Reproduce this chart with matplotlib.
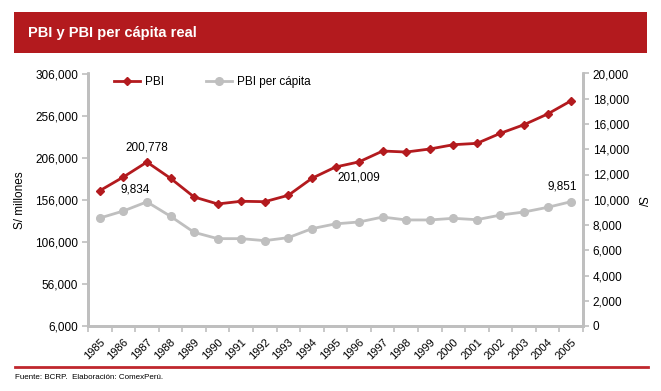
import matplotlib
matplotlib.use("Agg")
import matplotlib.pyplot as plt
from matplotlib.patches import Rectangle
from matplotlib.lines import Line2D
from matplotlib.ticker import FuncFormatter, FixedLocator

plt.rcParams['font.family'] = ['Liberation Sans', 'DejaVu Sans']

years = [str(y) for y in range(1985, 2006)]
pbi = [166750, 183000, 200778, 181500, 159300, 151000, 154200, 153700, 161300,
       181500, 194900, 201009, 213900, 212700, 216300, 221400, 223000, 235000,
       245200, 257900, 273700]
pbi_pc = [8550, 9110, 9834, 8690, 7420, 6920, 6920, 6760, 7000, 7710, 8090,
          8240, 8630, 8400, 8400, 8530, 8420, 8790, 9030, 9400, 9851]
left_ticks = list(range(6000, 306001, 50000))
right_ticks = list(range(0, 20001, 2000))

W, H = 661, 391
fig = plt.figure(figsize=(W / 100, H / 100), dpi=100)

def fx(px):
    return px / W

def fy(py):
    return 1 - py / H

RED = '#B31A1E'
GRAY = '#BFBFBF'
LINE_RED = '#C0272D'

# header bar
fig.patches.append(Rectangle((fx(14), fy(53)), fx(647) - fx(14), fy(12) - fy(53),
                             transform=fig.transFigure, facecolor=RED,
                             edgecolor='none', zorder=0))
fig.text(fx(28), fy(32.5), 'PBI y PBI per cápita real', color='white',
         fontsize=10.5, fontweight='bold', va='center', ha='left')

# footer
fig.add_artist(Line2D([fx(15), fx(648)], [fy(367), fy(367)], color=LINE_RED,
                      lw=2, transform=fig.transFigure))
fig.text(fx(15), fy(377.5), 'Fuente: BCRP.  Elaboración: ComexPerú.', fontsize=5.8,
         va='center', ha='left', color='black')

ax = fig.add_axes([fx(88), fy(326), fx(583) - fx(88), fy(73.5) - fy(326)])
ax2 = ax.twinx()

x = list(range(len(years)))
ax.plot(x, pbi, color=RED, lw=2, marker='D', markersize=4.5, zorder=3)
ax2.plot(x, pbi_pc, color=GRAY, lw=2, marker='o', markersize=5.5, zorder=3)

ax.set_xlim(-0.5, len(years) - 0.5)
ax.set_ylim(6000, 306000)
ax2.set_ylim(0, 20000)
ax.set_yticks(left_ticks)
ax2.set_yticks(right_ticks)
fmt = FuncFormatter(lambda v, p: f'{int(v):,}')
ax.yaxis.set_major_formatter(fmt)
ax2.yaxis.set_major_formatter(fmt)

ax.set_xticks(x)
ax.set_xticklabels(years, rotation=45, ha='right', va='top', rotation_mode='anchor')
ax.xaxis.set_minor_locator(FixedLocator([i - 0.5 for i in range(len(years) + 1)]))
ax.tick_params(axis='x', which='major', length=0, labelsize=8, pad=8)
ax.tick_params(axis='x', which='minor', length=4, color=GRAY, width=1.2, direction='out')
ax.tick_params(axis='y', length=4, color=GRAY, width=1.2, labelsize=8.5, pad=3)
ax2.tick_params(axis='y', length=4, color=GRAY, width=1.2, labelsize=8.5, pad=3)

for a in (ax, ax2):
    a.spines['top'].set_visible(False)
    for s in ('left', 'right', 'bottom'):
        a.spines[s].set_color(GRAY)
        a.spines[s].set_linewidth(2)
    a.set_facecolor('none')

fig.text(fx(20), fy(200), 'S/ millones', rotation=90, fontsize=8.5, va='center', ha='center')
fig.text(fx(640), fy(202), 'S/', rotation=270, fontsize=8.5, va='center', ha='center')

# annotations
def ann(axis, i, vals, dx, dy, text):
    axis.annotate(text, (i, vals[i]), xytext=(dx / 1.389, dy / 1.389),
                  textcoords='offset points', ha='center', va='center', fontsize=8.5)

ann(ax, 2, pbi, 0, 15, '200,778')
ann(ax, 11, pbi, 0, -15.5, '201,009')
ann(ax2, 2, pbi_pc, -11.5, 12, '9,834')
ann(ax2, 20, pbi_pc, -9, 15.5, '9,851')

# legend
handles = [Line2D([], [], color=RED, lw=2, marker='D', markersize=4.5),
           Line2D([], [], color=GRAY, lw=2, marker='o', markersize=5.5)]
ax.legend(handles, ['PBI', 'PBI per cápita'], loc='upper left',
          bbox_to_anchor=(fx(114) , fy(76)), bbox_transform=fig.transFigure,
          ncol=2, frameon=False, fontsize=8.5, handlelength=2.2, handletextpad=0.4,
          columnspacing=3.6, borderaxespad=0, borderpad=0)

fig.savefig('out.png', dpi=100)
